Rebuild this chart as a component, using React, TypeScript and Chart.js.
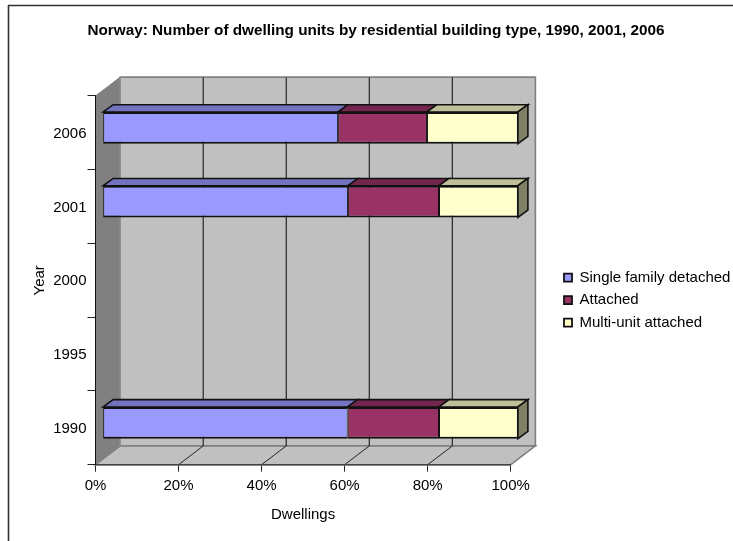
import React, { useEffect, useRef } from "react";
import { Chart, registerables } from "chart.js";

Chart.register(...registerables);

const categories = ["2006", "2001", "2000", "1995", "1990"];
const singleFamily = [56.7, 59.1, null, null, 59.0];
const attached = [21.4, 21.9, null, null, 22.0];
const multiUnit = [21.9, 19.0, null, null, 19.0];

const titleText = "Norway: Number of dwelling units by residential building type, 1990, 2001, 2006";
const seriesNames = ["Single family detached", "Attached", "Multi-unit attached"];
const frontColors = ["#9999FF", "#993366", "#FFFFCC"];
const topColors = ["#7373BF", "#73264D", "#BFBF99"];
const sideColors = ["#7373BF", "#73264D", "#808066"];

const FONT = "'Liberation Sans', Arial, sans-serif";
const WALL_DX = 24.7;
const WALL_DY = -18.8;
const BAR_SHIFT_X = 7.2;
const BAR_SHIFT_Y = -5.0;
const BAR_DX = 10;
const BAR_DY = -7.3;

function poly(ctx: CanvasRenderingContext2D, pts: number[][], fill: string | null, stroke: string | null, lw = 1) {
  ctx.beginPath();
  pts.forEach((p, i) => (i ? ctx.lineTo(p[0], p[1]) : ctx.moveTo(p[0], p[1])));
  ctx.closePath();
  if (fill) {
    ctx.fillStyle = fill;
    ctx.fill();
  }
  if (stroke) {
    ctx.strokeStyle = stroke;
    ctx.lineWidth = lw;
    ctx.stroke();
  }
}

function seg(ctx: CanvasRenderingContext2D, x1: number, y1: number, x2: number, y2: number, color: string, lw: number) {
  ctx.beginPath();
  ctx.moveTo(x1, y1);
  ctx.lineTo(x2, y2);
  ctx.strokeStyle = color;
  ctx.lineWidth = lw;
  ctx.stroke();
}

const stage3d = {
  id: "stage3d",
  afterLayout(chart: any) {
    const lg = chart.legend;
    if (lg) {
      lg.left = 556.5;
      lg.right = 733;
      lg.top = 262.7;
      lg.bottom = 341;
      lg.width = lg.right - lg.left;
      lg.height = lg.bottom - lg.top;
    }
    const tb = chart.titleBlock;
    if (tb) {
      tb.left = 0;
      tb.right = 752;
      tb.width = 752;
    }
  },
  beforeDraw(chart: any) {
    const { ctx, chartArea: a, scales } = chart;
    ctx.save();
    ctx.fillStyle = "#ffffff";
    ctx.fillRect(0, 0, chart.width, chart.height);
    seg(ctx, 8.5, 5, 8.5, 541, "#333333", 1.6);
    seg(ctx, 8, 5.5, 733, 5.5, "#333333", 1.6);

    const l = a.left, r = a.right, t = a.top, b = a.bottom;
    const d = WALL_DX, e = WALL_DY;
    poly(ctx, [[l + d, t + e], [r + d, t + e], [r + d, b + e], [l + d, b + e]], "#C0C0C0", "#808080", 1.6);
    poly(ctx, [[l, t], [l + d, t + e], [l + d, b + e], [l, b]], "#808080", "#808080", 1);
    poly(ctx, [[l, b], [l + d, b + e], [r + d, b + e], [r, b]], "#C0C0C0", "#808080", 1.6);
    seg(ctx, l + d, t + e, l + d, b + e, "#999999", 1);

    const ticks = scales.x.ticks;
    ticks.forEach((tk: any) => {
      const x = scales.x.getPixelForValue(tk.value);
      if (tk.value > 0 && tk.value < 100) {
        seg(ctx, x, b, x + d, b + e, "#222222", 1);
        seg(ctx, x + d, t + e, x + d, b + e, "#333333", 1.3);
      }
    });
    ctx.restore();
  },
  beforeDatasetsDraw(chart: any) {
    const { ctx } = chart;
    ctx.save();
    ctx.translate(BAR_SHIFT_X, BAR_SHIFT_Y);
    const last = chart.data.datasets.length - 1;
    chart.data.datasets.forEach((_: any, i: number) => {
      chart.getDatasetMeta(i).data.forEach((el: any, j: number) => {
        if (chart.data.datasets[i].data[j] == null) return;
        const x0 = el.base, x1 = el.x, y0 = el.y - el.height / 2, y1 = el.y + el.height / 2;
        poly(ctx, [[x0, y0], [x0 + BAR_DX, y0 + BAR_DY], [x1 + BAR_DX, y0 + BAR_DY], [x1, y0]], topColors[i], "#111111", 1.6);
        if (i === last) {
          poly(ctx, [[x1, y0], [x1 + BAR_DX, y0 + BAR_DY], [x1 + BAR_DX, y1 + BAR_DY], [x1, y1]], sideColors[i], "#111111", 1.6);
        }
      });
    });
  },
  afterDatasetsDraw(chart: any) {
    chart.ctx.restore();
  },
};

export default function App() {
  const ref = useRef<HTMLCanvasElement>(null);
  useEffect(() => {
    const series = [singleFamily, attached, multiUnit];
    const chart = new Chart(ref.current!, {
      type: "bar",
      data: {
        labels: categories,
        datasets: series.map((data, i) => ({
          label: seriesNames[i],
          data,
          backgroundColor: frontColors[i],
          borderColor: "#111111",
          borderWidth: { top: 2, bottom: 2, left: 1, right: 1 },
          borderSkipped: false,
          barPercentage: 0.43,
          categoryPercentage: 1,
          clip: false,
        })),
      },
      options: {
        indexAxis: "y",
        responsive: false,
        animation: false,
        layout: { padding: { left: 0, top: 0, right: 222.3, bottom: 0 } },
        scales: {
          x: {
            stacked: true,
            min: 0,
            max: 100,
            afterFit: (s: any) => { s.height = 76.3; },
            ticks: {
              stepSize: 20,
              callback: (v: any) => v + "%",
              color: "#000000",
              padding: 5,
              maxRotation: 0,
              font: { family: FONT, size: 15 },
            },
            grid: { drawOnChartArea: false, drawTicks: true, tickLength: 7, tickColor: "#222222", tickWidth: 1 },
            border: { display: true, color: "#444444", width: 1.6 },
            title: {
              display: true,
              text: "Dwellings",
              color: "#000000",
              font: { family: FONT, size: 15 },
              padding: { top: 0, bottom: 17 },
            },
          },
          y: {
            stacked: true,
            afterFit: (s: any) => { s.width = 95.5; },
            ticks: {
              color: "#000000",
              padding: 1,
              labelOffset: 1,
              font: { family: FONT, size: 15 },
            },
            grid: { drawOnChartArea: false, drawTicks: true, tickLength: 8, tickColor: "#222222", tickWidth: 1 },
            border: { display: true, color: "#111111", width: 1 },
            title: {
              display: true,
              text: "Year",
              color: "#000000",
              font: { family: FONT, size: 15 },
              padding: { top: 31, bottom: 0 },
            },
          },
        },
        plugins: {
          title: {
            display: true,
            text: titleText,
            color: "#000000",
            font: { family: FONT, size: 15.3, weight: "bold" },
            padding: { top: 21.6, bottom: 56 },
          },
          legend: {
            position: "chartArea",
            align: "start",
            labels: {
              boxWidth: 8,
              boxHeight: 8,
              padding: 7.5,
              color: "#000000",
              font: { family: FONT, size: 15 },
              generateLabels: (c: any) =>
                c.data.datasets.map((ds: any, i: number) => ({
                  text: ds.label,
                  fillStyle: frontColors[i],
                  strokeStyle: "#111111",
                  lineWidth: 1.8,
                  datasetIndex: i,
                  fontColor: "#000000",
                })),
            },
          },
          tooltip: { enabled: false },
        },
      },
      plugins: [stage3d],
    } as any);
    return () => chart.destroy();
  }, []);
  return (
    <canvas
      ref={ref}
      width={733}
      height={541}
      style={{ position: "fixed", left: 0, top: 0, display: "block" }}
    />
  );
}
